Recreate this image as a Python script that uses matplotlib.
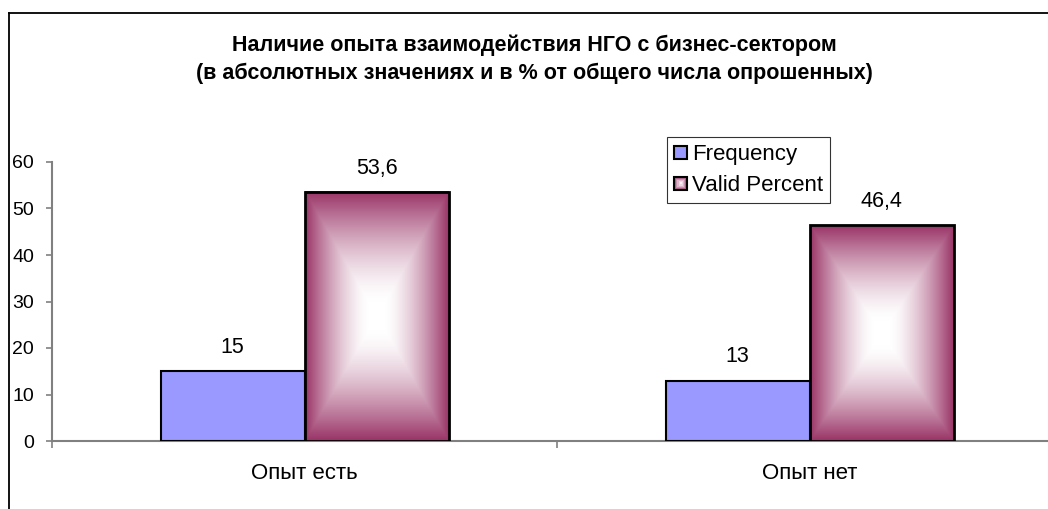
import numpy as np
import matplotlib
matplotlib.use("Agg")
import matplotlib.pyplot as plt
from matplotlib.patches import Rectangle
from matplotlib.legend_handler import HandlerBase
from matplotlib.lines import Line2D

categories = ["Опыт есть", "Опыт нет"]
frequency = [15, 13]
valid_percent = [53.6, 46.4]
series_names = ["Frequency", "Valid Percent"]
y_ticks = [0, 10, 20, 30, 40, 50, 60]
title = ("Наличие опыта взаимодействия НГО с бизнес-сектором\n"
         "(в абсолютных значениях и в % от общего числа опрошенных)")

plt.rcParams['font.family'] = ['Liberation Sans', 'DejaVu Sans']

W, H = 1048, 509
fig = plt.figure(figsize=(W / 100, H / 100), dpi=100)
fig.patch.set_facecolor("white")

# axes placement (px)
ax_left, ax_right, ax_top, ax_bottom = 52, 1062, 162, 441
ax = fig.add_axes([ax_left / W, 1 - ax_bottom / H,
                   (ax_right - ax_left) / W, (ax_bottom - ax_top) / H])
ax.set_xlim(-0.5, 1.5)
ax.set_ylim(0, 60)
ax.set_facecolor("none")

blue = "#9999FF"
maroon = np.array([153, 51, 102]) / 255.0

# gradient image (box gradient: white centre -> maroon edges)
n = 300
yy, xx = np.mgrid[-1:1:complex(0, n), -1:1:complex(0, n)]
t = np.maximum(np.abs(xx), np.abs(yy))
t = np.clip((t - 0.12) / 0.88, 0, 1) ** 1.5
img = (1 - t)[..., None] * np.ones(3) + t[..., None] * maroon

bw = 144 / 505
x = np.arange(len(categories))
ax.bar(x - bw / 2, frequency, bw, color=blue, edgecolor="black", linewidth=1.5, zorder=3)
for xi, v in zip(x, valid_percent):
    x0, x1 = xi, xi + bw
    ax.imshow(img, extent=(x0, x1, 0, v), aspect="auto", zorder=3, interpolation="bilinear")
    ax.add_patch(Rectangle((x0, 0), bw, v, facecolor="none", edgecolor="black", linewidth=2, zorder=4))
ax.set_xlim(-0.5, 1.5)
ax.set_ylim(0, 60)

def fmt(v):
    return ("%g" % v).replace(".", ",")

for xi, v in zip(x, frequency):
    ax.annotate(fmt(v), (xi - bw / 2, v), xytext=(0, 17), textcoords="offset points",
                ha="center", va="center", fontsize=15.5)
for xi, v in zip(x, valid_percent):
    ax.annotate(fmt(v), (xi + bw / 2, v), xytext=(0, 17), textcoords="offset points",
                ha="center", va="center", fontsize=15.5)

for s in ["top", "right"]:
    ax.spines[s].set_visible(False)
for s in ["left", "bottom"]:
    ax.spines[s].set_color("#808080")
    ax.spines[s].set_linewidth(1.5)

ax.set_yticks(y_ticks)
ax.tick_params(axis="y", direction="out", length=4, width=1.2, color="#808080",
               labelsize=14, pad=9)
ax.set_xticks([-0.5, 0.5, 1.5])
ax.set_xticklabels([])
ax.tick_params(axis="x", which="major", direction="out", length=5, width=1.2, color="#808080")
ax.set_xticks(x, minor=True)
ax.set_xticklabels(categories, minor=True)
ax.tick_params(axis="x", which="minor", length=0, labelsize=16, pad=16)

fig.text(534.5 / W, 1 - 59 / H, title, ha="center", va="center", fontsize=15.5,
         fontweight="bold", linespacing=1.42)

# figure frame (left and top)
fig.add_artist(Line2D([9 / W, 9 / W], [0, 1 - 13 / H], color="black", lw=1.3,
                      transform=fig.transFigure))
fig.add_artist(Line2D([9 / W, 1], [1 - 13 / H, 1 - 13 / H], color="black", lw=1.3,
                      transform=fig.transFigure))

class GradHandler(HandlerBase):
    def create_artists(self, legend, orig_handle, xdescent, ydescent, width, height, fontsize, trans):
        s = min(width, height)
        x0 = xdescent + width - s
        y0 = -ydescent + (height - s) / 2
        arts = []
        steps = 6
        for k in range(steps):
            f = k / steps
            tt = (1 - f) ** 1.5
            col = (1 - tt) * np.ones(3) + tt * maroon
            inset = f * s / 2
            arts.append(Rectangle((x0 + inset, y0 + inset), s - 2 * inset, s - 2 * inset,
                                  facecolor=col, edgecolor="none", transform=trans))
        arts.append(Rectangle((x0, y0), s, s, facecolor="none", edgecolor="black", lw=1.5, transform=trans))
        return arts

class SquareHandler(HandlerBase):
    def create_artists(self, legend, orig_handle, xdescent, ydescent, width, height, fontsize, trans):
        s = min(width, height)
        x0 = xdescent + width - s
        y0 = -ydescent + (height - s) / 2
        return [Rectangle((x0, y0), s, s, facecolor=blue, edgecolor="black", lw=1.5, transform=trans)]

h1 = Rectangle((0, 0), 1, 1)
h2 = Rectangle((0, 0), 1, 1)
leg = fig.legend([h1, h2], series_names, handler_map={h1: SquareHandler(), h2: GradHandler()},
                 loc="upper left", bbox_to_anchor=(667 / W, 1 - 137 / H),
                 fontsize=16, frameon=True, fancybox=False, edgecolor="black",
                 handlelength=0.6, handleheight=0.6, handletextpad=0.2,
                 borderpad=0.32, labelspacing=0.45, borderaxespad=0)
leg.get_frame().set_linewidth(0.8)

fig.savefig("out.png", dpi=100, facecolor="white")
